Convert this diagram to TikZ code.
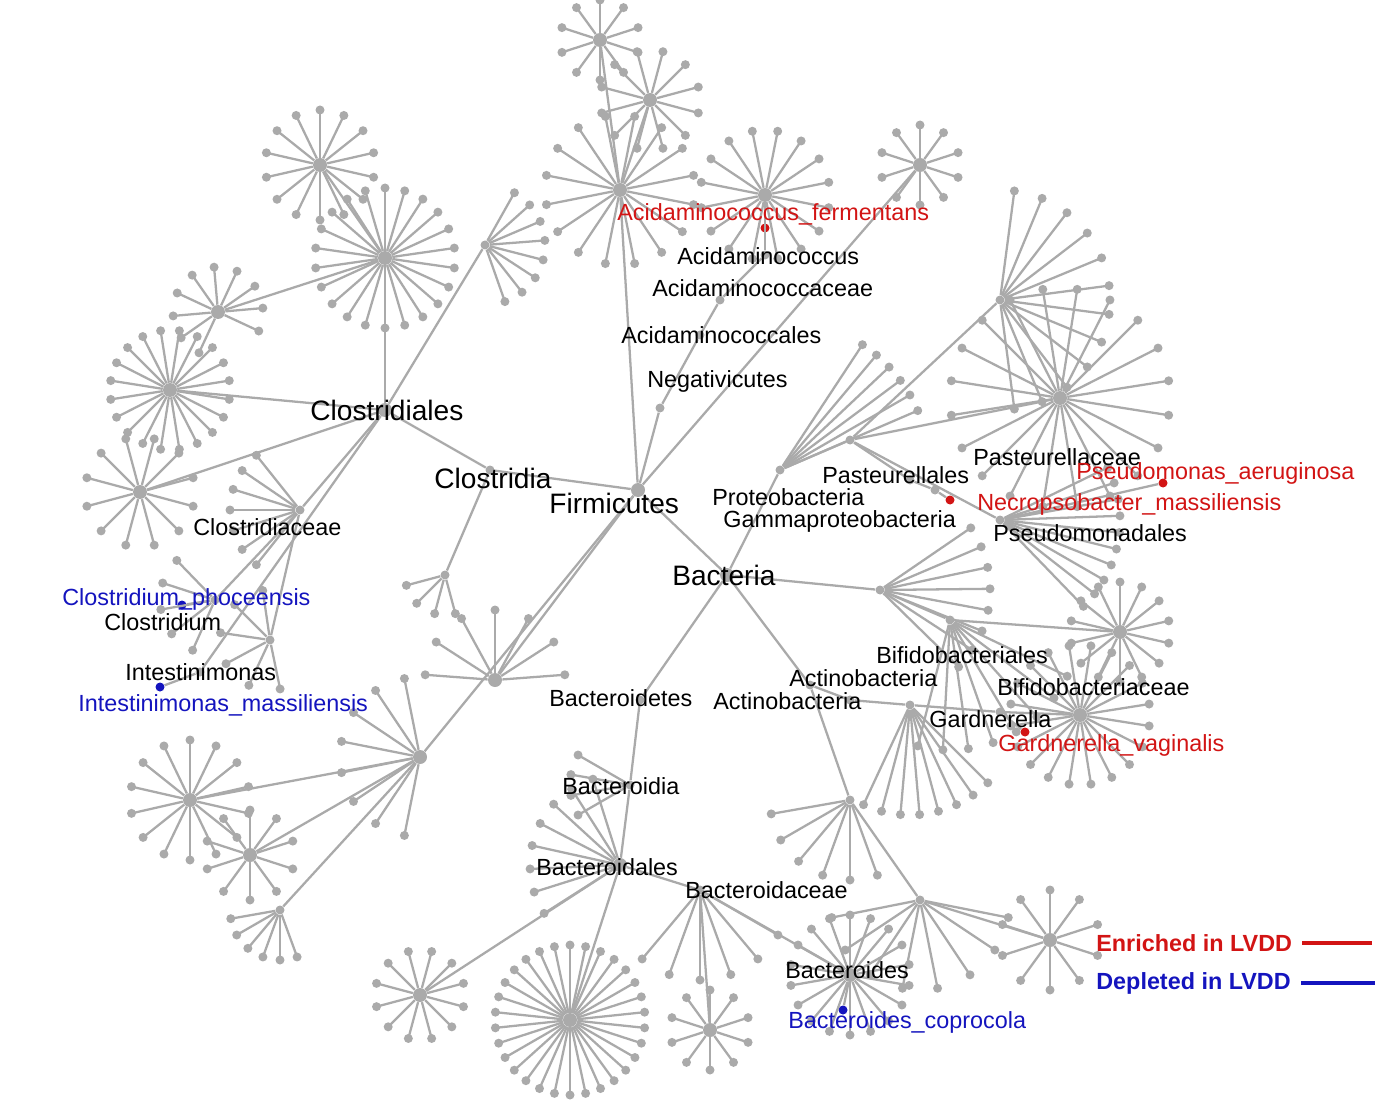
\documentclass[tikz,border=0pt]{standalone}
\usepackage{fontspec}
\setmainfont{Liberation Sans}
\definecolor{enr}{RGB}{210,20,20}
\definecolor{dep}{RGB}{20,20,190}
\definecolor{edgegray}{RGB}{170,170,170}
\newcommand\burst[5]{%
  \foreach \k in {1,...,#2}{%
    \pgfmathsetmacro\ang{#4+(\k-0.5)*#5/#2}
    \draw[edge] (#1) -- ++(\ang:#3) node[dot]{};}}
\begin{document}
\begin{tikzpicture}[x=0.02cm,y=-0.02cm]
\tikzset{edge/.style={draw=edgegray,line width=1.3pt},}
\tikzset{dot/.style={circle,fill=edgegray,inner sep=0pt,minimum size=0.18cm},}
\tikzset{hub/.style={circle,fill=edgegray,inner sep=0pt,minimum size=0.28cm},}
\tikzset{lab/.style={anchor=west,inner sep=0pt,font=\fontsize{13.3}{15}\selectfont},}
\tikzset{big/.style={anchor=west,inner sep=0pt,font=\fontsize{16}{18}\selectfont},}
\useasboundingbox (0,0) rectangle (1375,1118);

%TREE NODES
\node[hub] (bac) at (727,575) {};
\node[hub] (fir) at (638,490) {};
\node[dot] (cla) at (490,470) {};
\node[hub] (clo) at (385,410) {};
\node[hub] (cloA) at (385,258) {};
\node[dot] (cce) at (300,510) {};
\node[dot] (clm) at (215,600) {};
\node[dot,fill=dep] (cph) at (182,605) {};
\node[dot] (int) at (200,672) {};
\node[dot,fill=dep] (ims) at (160,687) {};
\node[hub] (cloB) at (170,390) {};
\node[hub] (cloC) at (140,492) {};
\node[hub] (cloD) at (320,165) {};
\node[hub] (cloE) at (218,312) {};
\node[dot] (cloF) at (485,245) {};
\node[dot] (cloG) at (270,640) {};
\node[dot] (neg) at (660,408) {};
\node[dot] (aca) at (700,335) {};
\node[dot] (acc) at (720,300) {};
\node[dot] (acu) at (765,255) {};
\node[dot,fill=enr] (afe) at (765,228) {};
\node[hub] (acuS) at (765,195) {};
\node[hub] (firA) at (620,190) {};
\node[hub] (firB) at (650,100) {};
\node[hub] (firC) at (600,40) {};
\node[hub] (firD) at (420,757) {};
\node[hub] (firE) at (190,800) {};
\node[hub] (firF) at (250,855) {};
\node[dot] (firG) at (280,910) {};
\node[hub] (firH) at (495,680) {};
\node[dot] (firI) at (445,575) {};
\node[dot] (pro) at (780,470) {};
\node[dot] (gam) at (850,440) {};
\node[dot] (pas) at (910,480) {};
\node[dot] (pce) at (935,490) {};
\node[dot,fill=enr] (nec) at (950,500) {};
\node[dot] (psd) at (1000,520) {};
\node[dot,fill=enr] (pae) at (1163,483) {};
\node[hub] (gamS) at (1060,398) {};
\node[hub] (gamT) at (920,165) {};
\node[dot] (gamU) at (1000,300) {};
\node[dot] (act) at (810,685) {};
\node[dot] (acl) at (850,700) {};
\node[dot] (bfa) at (910,705) {};
\node[dot] (bfc) at (1000,712) {};
\node[hub] (gar) at (1080,715) {};
\node[dot,fill=enr] (gva) at (1025,732) {};
\node[hub] (bacS) at (1120,632) {};
\node[dot] (bact) at (640,700) {};
\node[dot] (bdi) at (630,785) {};
\node[hub] (bda) at (620,865) {};
\node[dot] (bdc) at (700,890) {};
\node[hub] (bds) at (850,975) {};
\node[dot,fill=dep] (bco) at (843,1010) {};
\node[hub] (bdaA) at (570,1020) {};
\node[hub] (bdaB) at (420,995) {};
\node[hub] (bdaC) at (710,1030) {};
\node[dot] (bacU) at (850,800) {};
\node[dot] (bacV) at (920,900) {};
\node[hub] (bacW) at (1050,940) {};
\node[dot] (bacX) at (880,590) {};
\node[dot] (bacY) at (950,620) {};

%EDGES
\foreach \a/\b in {bac/fir,fir/cla,cla/clo,clo/cloA,clo/cce,cce/clm,clm/cph,clo/int,int/ims,clo/cloB,clo/cloC,cloA/cloD,cloA/cloE,clo/cloF,cce/cloG,
  fir/neg,neg/aca,aca/acc,acc/acu,acu/afe,acu/acuS,fir/firA,firA/firB,firA/firC,fir/firD,firD/firE,firD/firF,firD/firG,fir/firH,cla/firI,
  bac/pro,pro/gam,gam/pas,pas/pce,pce/nec,gam/psd,psd/pae,gam/gamS,fir/gamT,gam/gamU,
  bac/act,act/acl,acl/bfa,bfa/bfc,bfc/gar,bfc/gva,bac/bacX,bacX/bacY,bacY/bacS,
  bac/bact,bact/bdi,bdi/bda,bda/bdc,bdc/bds,bds/bco,bda/bdaA,bda/bdaB,bdc/bdaC,act/bacU,bacU/bacV,bacV/bacW}
  \draw[edge] (\a) -- (\b);

%LEAVES
\burst{cloA}{22}{70}{0}{360}
\burst{cloB}{20}{60}{0}{360}
\burst{cloC}{12}{55}{0}{360}
\burst{cloD}{14}{55}{0}{360}
\burst{cloE}{10}{45}{100}{300}
\burst{cloF}{8}{60}{-70}{150}
\burst{cloG}{6}{50}{60}{220}
\burst{cce}{7}{70}{120}{120}
\burst{clm}{5}{55}{100}{140}
\burst{acuS}{16}{65}{0}{360}
\burst{firA}{16}{75}{0}{360}
\burst{firB}{12}{50}{0}{360}
\burst{firC}{10}{40}{0}{360}
\burst{firD}{8}{80}{90}{180}
\burst{firE}{14}{60}{0}{360}
\burst{firF}{10}{45}{0}{360}
\burst{firG}{6}{50}{60}{120}
\burst{firH}{7}{70}{170}{200}
\burst{firI}{4}{40}{60}{120}
\burst{gamS}{20}{110}{0}{360}
\burst{gamT}{10}{40}{0}{360}
\burst{gamU}{12}{110}{-90}{180}
\burst{psd}{10}{120}{-30}{80}
\burst{pro}{6}{150}{-60}{40}
\burst{gar}{20}{70}{0}{360}
\burst{bacS}{14}{50}{0}{360}
\burst{bacX}{8}{110}{-40}{90}
\burst{bacY}{8}{130}{20}{90}
\burst{bfa}{8}{110}{40}{80}
\burst{bacW}{10}{50}{0}{360}
\burst{bacV}{8}{90}{0}{180}
\burst{bacU}{6}{80}{60}{120}
\burst{bds}{18}{60}{0}{360}
\burst{bdaA}{30}{75}{0}{360}
\burst{bdaB}{12}{45}{0}{360}
\burst{bdaC}{10}{40}{0}{360}
\burst{bda}{8}{90}{140}{120}
\burst{bdc}{6}{90}{20}{120}
\burst{bdi}{4}{60}{140}{80}

%LABELS
\node[big] (lbac) at (672,575) {Bacteria};
\node[big] (lfir) at (549,503) {Firmicutes};
\node[big] (lcla) at (434,478) {Clostridia};
\node[big] (lclo) at (310,410) {Clostridiales};
\node[lab] (lcce) at (193,527) {Clostridiaceae};
\node[lab,text=dep] (lcph) at (62,599) {Clostridium\_phoceensis};
\node[lab] (lclm) at (104,622) {Clostridium};
\node[lab] (lint) at (125,672) {Intestinimonas};
\node[lab,text=dep] (lims) at (78,705) {Intestinimonas\_massiliensis};
\node[lab,text=enr] (lafe) at (617,214) {Acidaminococcus\_fermentans};
\node[lab] (lacu) at (677,256) {Acidaminococcus};
\node[lab] (lacc) at (652,288) {Acidaminococcaceae};
\node[lab] (laca) at (621,335) {Acidaminococcales};
\node[lab] (lneg) at (647,381) {Negativicutes};
\node[lab] (lpce) at (973,457) {Pasteurellaceae};
\node[lab,text=enr] (lpae) at (1076,473) {Pseudomonas\_aeruginosa};
\node[lab] (lpas) at (822,475) {Pasteurellales};
\node[lab] (lpro) at (712,497) {Proteobacteria};
\node[lab,text=enr] (lnec) at (977,504) {Necropsobacter\_massiliensis};
\node[lab] (lgam) at (723,521) {Gammaproteobacteria};
\node[lab] (lpsd) at (993,533) {Pseudomonadales};
\node[lab] (lbfa) at (876,655) {Bifidobacteriales};
\node[lab] (lact) at (789,678) {Actinobacteria};
\node[lab] (lbfc) at (997,687) {Bifidobacteriaceae};
\node[lab] (lbact) at (549,698) {Bacteroidetes};
\node[lab] (lacl) at (713,701) {Actinobacteria};
\node[lab] (lgar) at (929,719) {Gardnerella};
\node[lab,text=enr] (lgva) at (998,745) {Gardnerella\_vaginalis};
\node[lab] (lbdi) at (562,786) {Bacteroidia};
\node[lab] (lbda) at (536,867) {Bacteroidales};
\node[lab] (lbdc) at (685,890) {Bacteroidaceae};
\node[lab] (lbds) at (785,970) {Bacteroides};
\node[lab,text=dep] (lbco) at (788,1022) {Bacteroides\_coprocola};

%LEGEND
\node[lab,font=\fontsize{13.3}{15}\selectfont\bfseries,text=enr] (lenr) at (1096,943) {Enriched in LVDD};
\node[lab,font=\fontsize{13.3}{15}\selectfont\bfseries,text=dep] (ldep) at (1096,983) {Depleted in LVDD};
\coordinate (enrE) at (1372,943);
\coordinate (depE) at (1375,983);
\draw[enr,line width=1.8pt] ([xshift=0.2cm]lenr.east) -- (enrE);
\draw[dep,line width=1.8pt] ([xshift=0.2cm]ldep.east) -- (depE);
\end{tikzpicture}
\end{document}
